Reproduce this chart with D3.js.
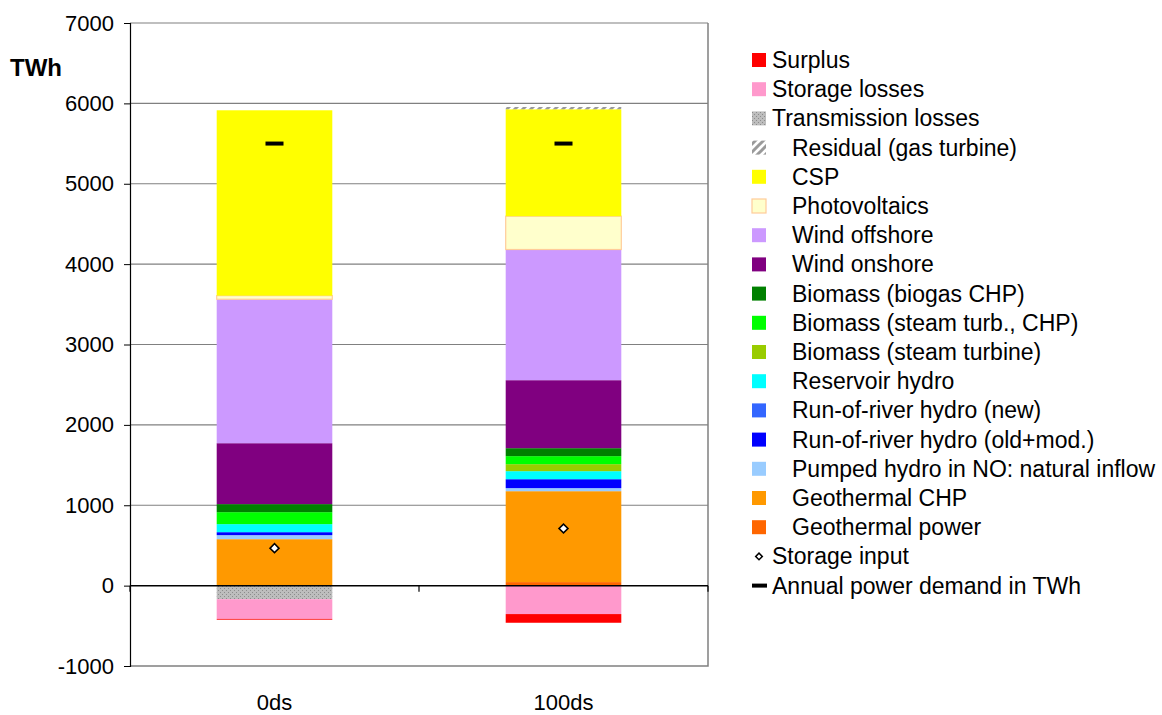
<!DOCTYPE html>
<html>
<head>
<meta charset="utf-8">
<script src="https://cdn.jsdelivr.net/npm/d3@7"></script>
<style>
  html, body { margin: 0; padding: 0; background: #fff; }
  svg { display: block; font-family: Arial, "Liberation Sans", sans-serif; }
</style>
</head>
<body>
<svg id="chart" width="1162" height="715"></svg>
<script>
// Electricity balance per scenario, TWh
const categories = ["0ds", "100ds"];

// Supply side (stacked upward, bottom to top)
const geothermalPower     = [0, 44];
const geothermalCHP       = [578, 1131];
const pumpedHydroNO       = [50, 38];
const runOfRiverOld       = [37, 111];
const runOfRiverNew       = [0, 0];
const reservoirHydro      = [100, 100];
const biomassSteamTurbine = [0, 87];
const biomassSteamCHP     = [149, 100];
const biogasCHP           = [100, 99];
const windOnshore         = [758, 846];
const windOffshore        = [1791, 1626];
const photovoltaics       = [45, 414];
const csp                 = [2306, 1331];
const residualGasTurbine  = [0, 28];

// Losses and surplus (stacked downward from zero)
const transmissionLosses  = [-169, 0];
const storageLosses       = [-245, -354];
const surplus             = [-10, -108];

// Markers
const storageInput        = [466, 711];
const annualDemand        = [5500, 5500];

const yTicks = [-1000, 0, 1000, 2000, 3000, 4000, 5000, 6000, 7000];

const series = [
  { key: "transmission", label: "Transmission losses", values: transmissionLosses, fill: "url(#dots)" },
  { key: "storageLoss",  label: "Storage losses", values: storageLosses, fill: "#FF99CC" },
  { key: "surplus",      label: "Surplus", values: surplus, fill: "#FF0000" },
  { key: "geoPower",     label: "Geothermal power", values: geothermalPower, fill: "#FF6600" },
  { key: "geoCHP",       label: "Geothermal CHP", values: geothermalCHP, fill: "#FF9900" },
  { key: "pumped",       label: "Pumped hydro in NO: natural inflow", values: pumpedHydroNO, fill: "#99CCFF" },
  { key: "rorOld",       label: "Run-of-river hydro (old+mod.)", values: runOfRiverOld, fill: "#0000FF" },
  { key: "rorNew",       label: "Run-of-river hydro (new)", values: runOfRiverNew, fill: "#3366FF" },
  { key: "reservoir",    label: "Reservoir hydro", values: reservoirHydro, fill: "#00FFFF" },
  { key: "steamTurb",    label: "Biomass (steam turbine)", values: biomassSteamTurbine, fill: "#99CC00" },
  { key: "steamCHP",     label: "Biomass (steam turb., CHP)", values: biomassSteamCHP, fill: "#00FF00" },
  { key: "biogas",       label: "Biomass (biogas CHP)", values: biogasCHP, fill: "#008000" },
  { key: "windOn",       label: "Wind onshore", values: windOnshore, fill: "#800080" },
  { key: "windOff",      label: "Wind offshore", values: windOffshore, fill: "#CC99FF" },
  { key: "pv",           label: "Photovoltaics", values: photovoltaics, fill: "#FFFFCC", stroke: "#FFCC99" },
  { key: "csp",          label: "CSP", values: csp, fill: "#FFFF00" },
  { key: "residual",     label: "Residual (gas turbine)", values: residualGasTurbine, fill: "url(#hatch)" }
];

const svg = d3.select("#chart");

// Fill patterns
const defs = svg.append("defs");
const dots = defs.append("pattern").attr("id", "dots")
  .attr("patternUnits", "userSpaceOnUse").attr("width", 4).attr("height", 4);
dots.append("rect").attr("width", 4).attr("height", 4).attr("fill", "#BDBDBD");
dots.append("rect").attr("x", 0).attr("y", 0).attr("width", 1).attr("height", 1).attr("fill", "#8C8C8C");
dots.append("rect").attr("x", 2).attr("y", 2).attr("width", 1).attr("height", 1).attr("fill", "#8C8C8C");

const hatch = defs.append("pattern").attr("id", "hatch")
  .attr("patternUnits", "userSpaceOnUse").attr("width", 8).attr("height", 8);
hatch.append("rect").attr("width", 8).attr("height", 8).attr("fill", "#FFFFFF");
hatch.append("path").attr("d", "M-2,10 L10,-2 M-2,2 L2,-2 M6,10 L10,6")
  .attr("stroke", "#9A9A9A").attr("stroke-width", 3);

// Scales
const plot = { left: 130, right: 708, top: 23, bottom: 666 };
const x = d3.scaleBand().domain(categories)
  .range([plot.left, plot.right]).paddingInner(0.6).paddingOuter(0.3);
const y = d3.scaleLinear().domain([-1000, 7000]).range([plot.bottom, plot.top]);

// Gridlines
svg.append("g").selectAll("line").data(yTicks.filter(t => t !== 0 && t !== -1000))
  .join("line")
  .attr("x1", plot.left).attr("x2", plot.right)
  .attr("y1", d => y(d)).attr("y2", d => y(d))
  .attr("stroke", "#808080").attr("stroke-width", 1.2);

// Plot area border (right and bottom)
svg.append("path")
  .attr("d", `M${plot.right},${plot.top}V${plot.bottom}H${plot.left}`)
  .attr("fill", "none").attr("stroke", "#808080").attr("stroke-width", 1.5);

// Stacked bars
const table = categories.map((c, i) => {
  const row = { category: c };
  series.forEach(s => { row[s.key] = s.values[i]; });
  return row;
});
const stacked = d3.stack()
  .keys(series.map(s => s.key))
  .offset(d3.stackOffsetDiverging)(table);

const barLayer = svg.append("g");
stacked.forEach((layer, li) => {
  const s = series[li];
  barLayer.append("g").selectAll("rect")
    .data(layer.filter(d => d[1] !== d[0]))
    .join("rect")
    .attr("x", d => x(d.data.category))
    .attr("width", x.bandwidth())
    .attr("y", d => y(Math.max(d[0], d[1])))
    .attr("height", d => Math.abs(y(d[0]) - y(d[1])))
    .attr("fill", s.fill)
    .attr("stroke", s.stroke || "none")
    .attr("stroke-width", s.stroke ? 1.2 : 0);
});

// Annual demand markers
svg.append("g").selectAll("rect")
  .data(categories.map((c, i) => ({ c, v: annualDemand[i] })))
  .join("rect")
  .attr("x", d => x(d.c) + x.bandwidth() / 2 - 9)
  .attr("y", d => y(d.v) - 2)
  .attr("width", 18).attr("height", 4)
  .attr("fill", "#000");

// Storage input markers
const diamond = d3.symbol(d3.symbolSquare, 40);
svg.append("g").selectAll("path")
  .data(categories.map((c, i) => ({ c, v: storageInput[i] })))
  .join("path")
  .attr("d", diamond)
  .attr("transform", d => `translate(${x(d.c) + x.bandwidth() / 2},${y(d.v)}) rotate(45)`)
  .attr("fill", "#fff").attr("stroke", "#000").attr("stroke-width", 1.6);

// Y axis
const yAxis = svg.append("g").attr("transform", `translate(${plot.left},0)`)
  .call(d3.axisLeft(y).tickValues(yTicks).tickSize(6).tickPadding(10).tickFormat(d => String(d)));
yAxis.select(".domain").attr("stroke", "#000").attr("stroke-width", 1.2);
yAxis.selectAll(".tick line").attr("stroke", "#000");
yAxis.selectAll(".tick text").attr("font-size", 22).attr("fill", "#000")
  .attr("font-family", "Arial, 'Liberation Sans', sans-serif");

// X axis at zero
const xAxis = svg.append("g").attr("transform", `translate(0,${y(0)})`);
xAxis.append("line").attr("x1", plot.left).attr("x2", plot.right)
  .attr("stroke", "#000").attr("stroke-width", 1.5);
const xTickPos = [plot.left, (x("0ds") + x.bandwidth() / 2 + x("100ds") + x.bandwidth() / 2) / 2, plot.right];
xAxis.selectAll("line.tk").data(xTickPos).join("line").attr("class", "tk")
  .attr("x1", d => d).attr("x2", d => d).attr("y1", 0).attr("y2", 6)
  .attr("stroke", "#000").attr("stroke-width", 1.2);

// Category labels
svg.append("g").selectAll("text").data(categories).join("text")
  .attr("x", d => x(d) + x.bandwidth() / 2)
  .attr("y", 710)
  .attr("text-anchor", "middle")
  .attr("font-size", 22)
  .text(d => d);

// Unit label
svg.append("text").attr("x", 10).attr("y", 76)
  .attr("font-size", 24).attr("font-weight", "bold").text("TWh");

// Legend
const legendItems = [
  { label: "Surplus", type: "box", fill: "#FF0000", indent: false },
  { label: "Storage losses", type: "box", fill: "#FF99CC", indent: false },
  { label: "Transmission losses", type: "box", fill: "url(#dots)", indent: false },
  ...series.slice(3).reverse().map(s => ({ label: s.label, type: "box", fill: s.fill, stroke: s.stroke, indent: true })),
  { label: "Storage input", type: "diamond", indent: false },
  { label: "Annual power demand in TWh", type: "dash", indent: false }
];

const legend = svg.append("g");
const rowY = i => 60 + i * 29.2;
legendItems.forEach((item, i) => {
  const cy = rowY(i);
  const g = legend.append("g");
  if (item.type === "box") {
    g.append("rect").attr("x", 752).attr("y", cy - 7).attr("width", 14).attr("height", 14)
      .attr("fill", item.fill)
      .attr("stroke", item.stroke || "none").attr("stroke-width", item.stroke ? 1.2 : 0);
  } else if (item.type === "diamond") {
    g.append("path").attr("d", d3.symbol(d3.symbolSquare, 22))
      .attr("transform", `translate(759,${cy}) rotate(45)`)
      .attr("fill", "#fff").attr("stroke", "#000").attr("stroke-width", 1.5);
  } else {
    g.append("rect").attr("x", 752).attr("y", cy - 2).attr("width", 15).attr("height", 4).attr("fill", "#000");
  }
  g.append("text").attr("x", item.indent ? 792 : 772).attr("y", cy + 8)
    .attr("font-size", 23).attr("fill", "#000").text(item.label);
});
</script>
</body>
</html>
